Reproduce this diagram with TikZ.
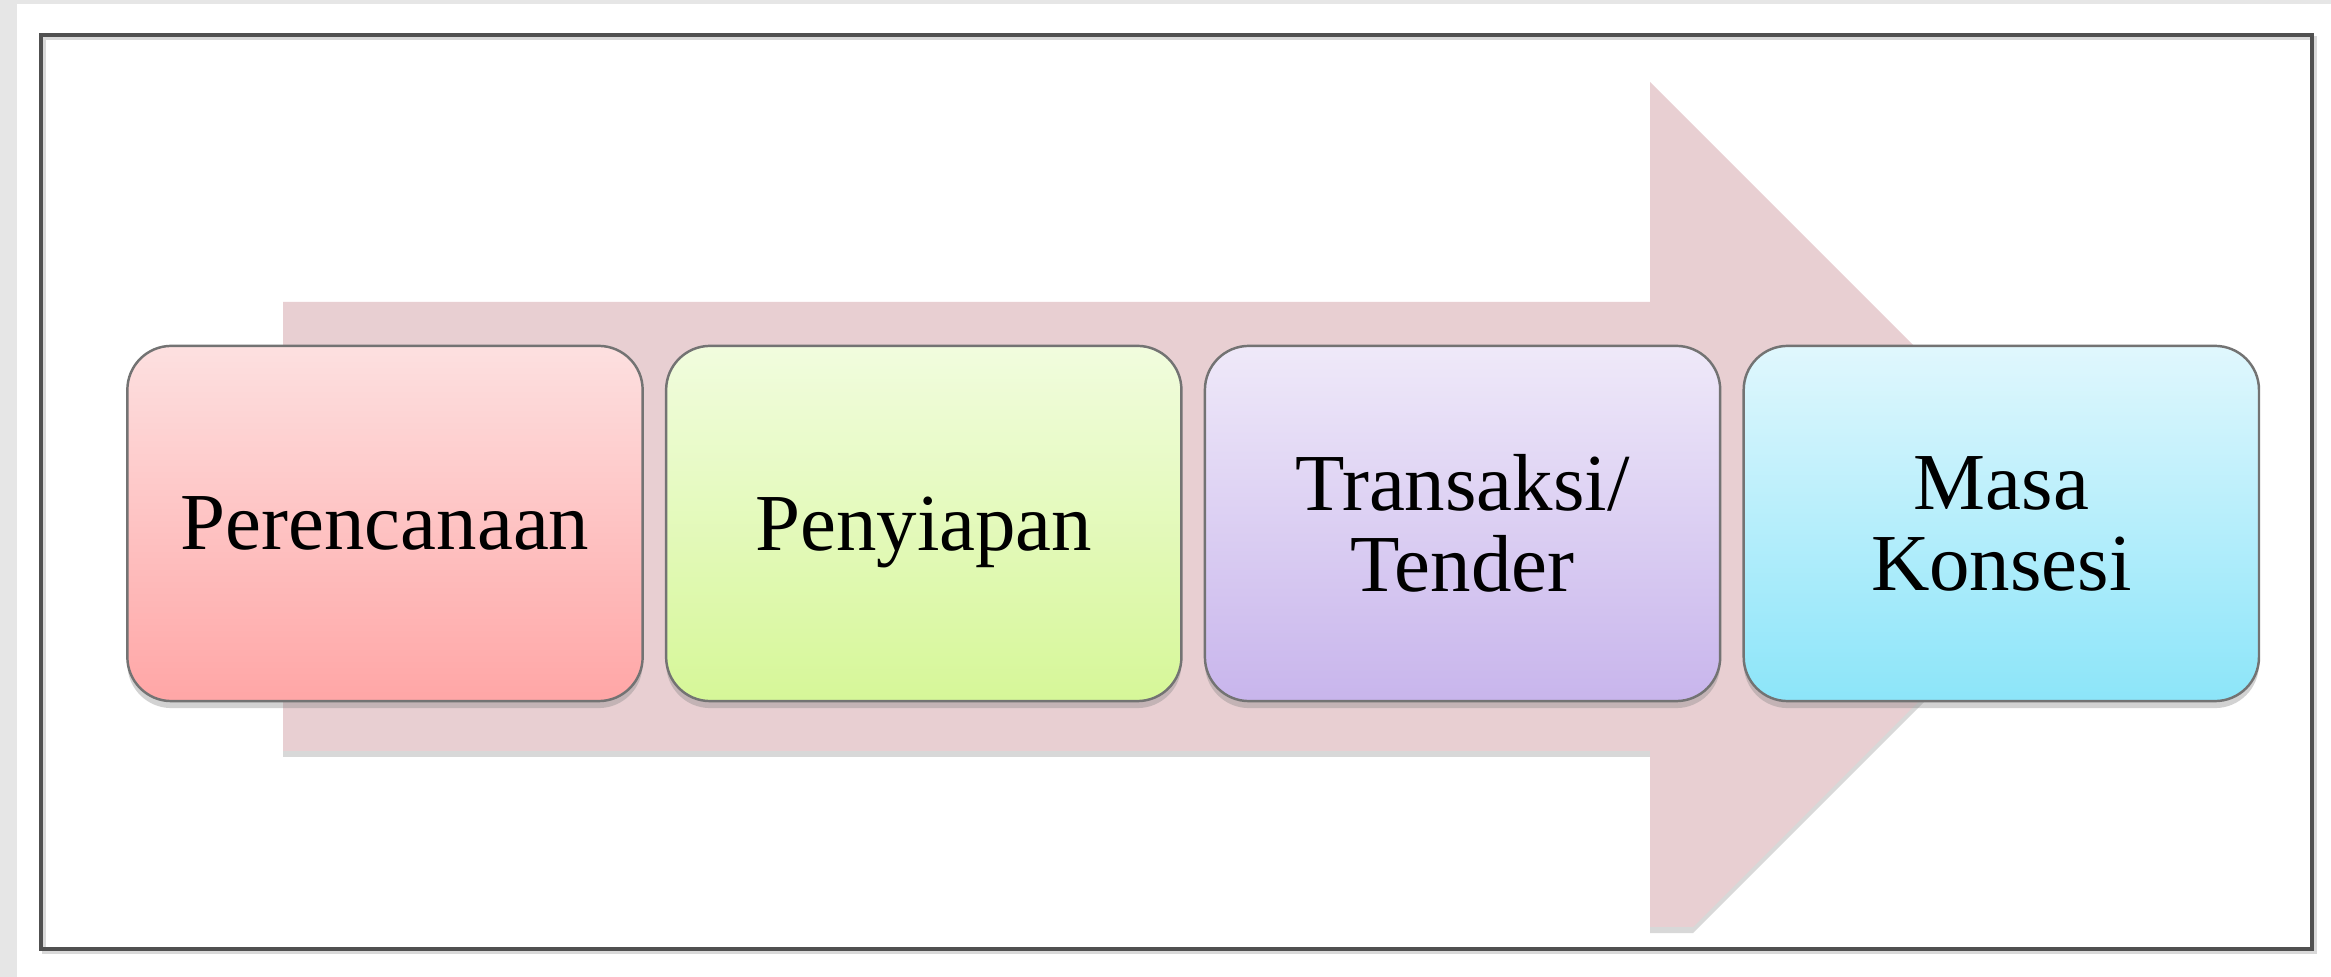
\documentclass[tikz,border=0pt]{standalone}
\usepackage{fontspec}
\setmainfont{Liberation Serif}
\usetikzlibrary{positioning,shadows}

\definecolor{pagegray}{RGB}{230,230,230}
\definecolor{framegray}{RGB}{80,80,80}
\definecolor{arrowpink}{RGB}{232,207,210}
\definecolor{redtop}{RGB}{253,224,224}
\definecolor{redbot}{RGB}{255,166,166}
\definecolor{greentop}{RGB}{241,252,222}
\definecolor{greenbot}{RGB}{214,247,152}
\definecolor{purpletop}{RGB}{239,233,249}
\definecolor{purplebot}{RGB}{200,181,236}
\definecolor{cyantop}{RGB}{224,247,253}
\definecolor{cyanbot}{RGB}{140,229,249}

\tikzset{
    stage/.style = {draw = black!55, line width = 0.7pt, rounded corners = 0.44cm,
        minimum width = 5.15cm, minimum height = 3.55cm, align = center,
        font = \fontsize{23}{23}\selectfont,
        drop shadow = {shadow xshift = 0pt, shadow yshift = -0.07cm, opacity = 0.35}}
}

\begin{document}
\begin{tikzpicture}[x = 0.01cm, y = -0.01cm]
\useasboundingbox (0,0) rectangle (2331,977);
\fill[pagegray] (0,0) rectangle (2331,977);
\fill[white] (17,4) rectangle (2331,977);
\draw[black!15, line width = 1.2pt] (44,38) rectangle (2315,952);
\draw[framegray, line width = 0.9pt] (41,35) rectangle (2312,949);
% big arrow behind the stages
\fill[arrowpink, drop shadow = {shadow xshift = 0pt, shadow yshift = -0.06cm, opacity = 0.3}]
(283,302) -- (1650,302) -- (1650,82) -- (2094,526) -- (1693,927) -- (1650,927) -- (1650,751) -- (283,751) -- cycle;
% stages
\node[stage, top color = redtop, bottom color = redbot] (plan) at (385,523.5) {Perencanaan};
\node[stage, top color = greentop, bottom color = greenbot, text depth = 0pt] (prep) [right = 0.21cm of plan] {Penyiapan};
\node[stage, top color = purpletop, bottom color = purplebot] (tend) [right = 0.21cm of prep] {Transaksi/\\Tender};
\node[stage, top color = cyantop, bottom color = cyanbot] (kons) [right = 0.21cm of tend] {Masa\\Konsesi};
\end{tikzpicture}
\end{document}
